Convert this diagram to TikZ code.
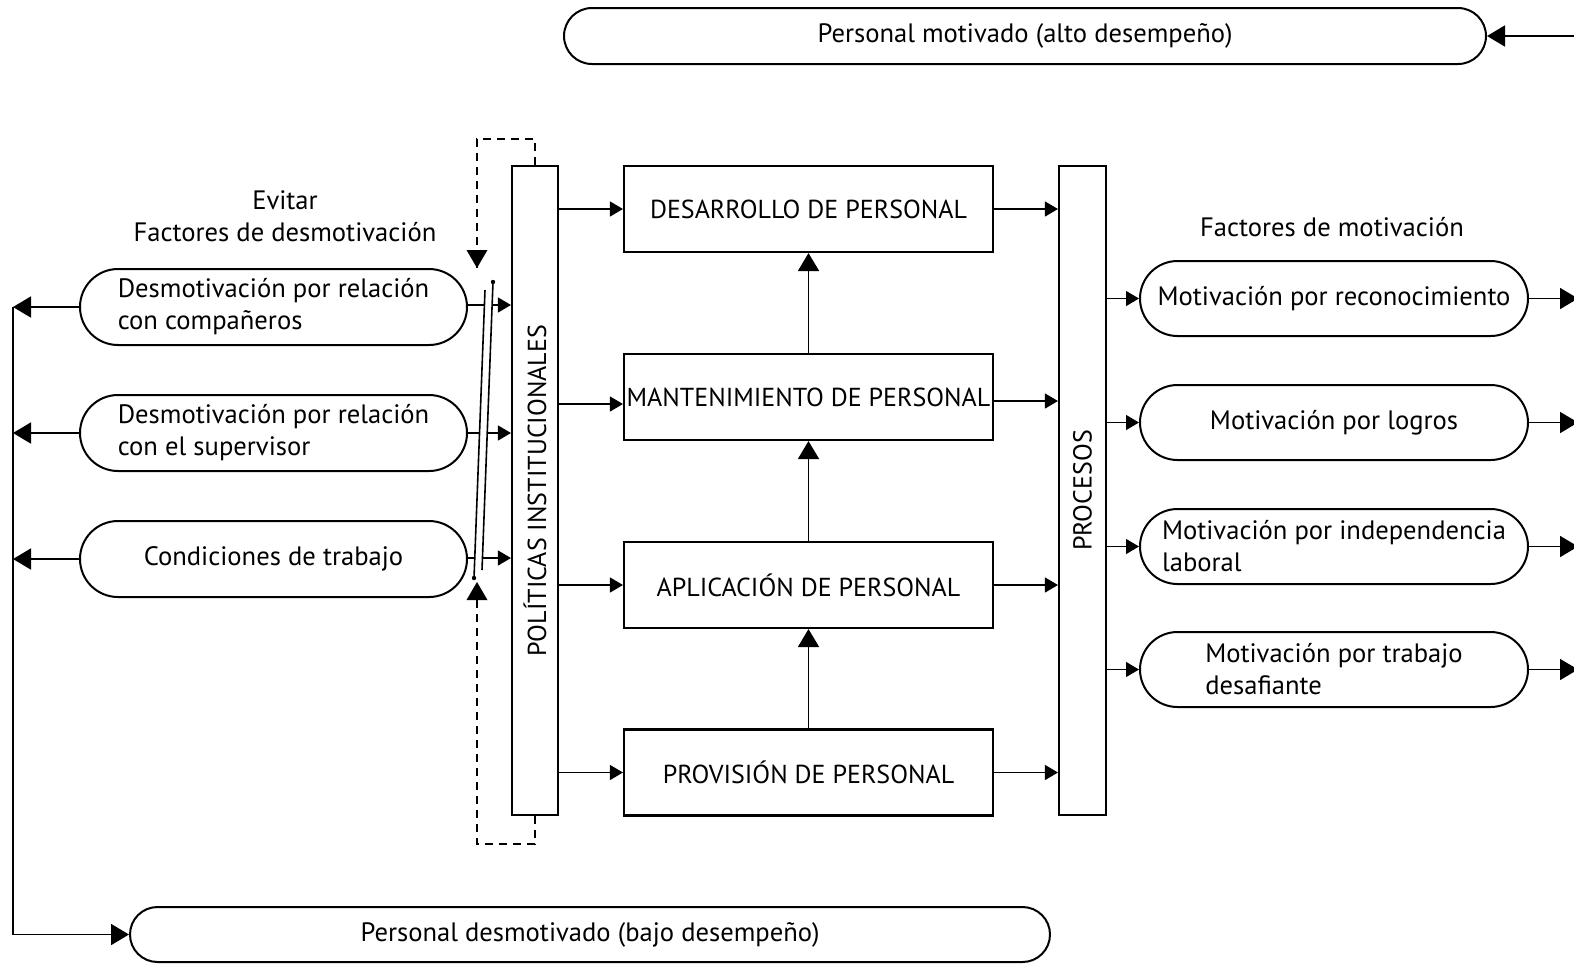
\documentclass[tikz,border=0pt]{standalone}
\usepackage{fontspec}
\setmainfont{PT Sans}
\usetikzlibrary{arrows.meta,shapes.misc}

\begin{document}
\begin{tikzpicture}[x=0.5pt,y=-0.5pt,
  every node/.style={font=\fontsize{13.3}{16}\selectfont},
  pill/.style={rounded rectangle, draw, line width=1pt, align=left, inner sep=0pt},
  box/.style={draw, rectangle, line width=1.05pt, inner sep=0pt, font=\fontsize{13}{16}\selectfont},
  small/.style={line width=0.6pt, -{Triangle[length=6.5pt,width=7.5pt]}},
  big/.style={line width=0.9pt, -{Triangle[length=9pt,width=10.5pt]}},
  dashline/.style={line width=0.9pt, dash pattern=on 4pt off 3pt},
  bar/.style={line width=0.8pt},
  heading/.style={align=center}]

\useasboundingbox (0,0) rectangle (1574,966);

% outcome bars
\node[pill, minimum width=461pt, minimum height=28pt] (top) at (1025,36) {Personal motivado (alto desempeño)};
\node[pill, minimum width=460pt, minimum height=27.5pt] (bot) at (590,934.5) {Personal desmotivado (bajo desempeño)};

% headings
\node[heading] (hl) at (285,216) {Evitar\\Factores de desmotivación};
\node[heading] (hr) at (1332,227) {Factores de motivación};

% demotivation factors
\node[pill, minimum width=193.5pt, minimum height=38pt] (L1) at (273.5,307) {Desmotivación por relación\\con compañeros};
\node[pill, minimum width=193.5pt, minimum height=38pt] (L2) at (273.5,433) {Desmotivación por relación\\con el supervisor};
\node[pill, minimum width=193.5pt, minimum height=38pt] (L3) at (273.5,559) {Condiciones de trabajo};

% institutional policies and processes
\node[box, minimum width=23pt, minimum height=324.5pt] (pol) at (535,490.5) {};
\node[rotate=90, font=\fontsize{13}{16}\selectfont] (polt) at (535,490.5) {POLÍTICAS INSTITUCIONALES};
\node[box, minimum width=23.5pt, minimum height=324.5pt] (proc) at (1082.5,490.5) {};
\node[rotate=90, font=\fontsize{13}{16}\selectfont] (proct) at (1082.5,490.5) {PROCESOS};

% personnel subsystems
\node[box, minimum width=184.5pt, minimum height=43pt] (D) at (808.5,209) {DESARROLLO DE PERSONAL};
\node[box, minimum width=184.5pt, minimum height=43pt] (M) at (808.5,397) {MANTENIMIENTO DE PERSONAL};
\node[box, minimum width=184.5pt, minimum height=43pt] (A) at (808.5,585) {APLICACIÓN DE PERSONAL};
\node[box, minimum width=184.5pt, minimum height=43pt] (P) at (808.5,772.5) {PROVISIÓN DE PERSONAL};

% motivation factors
\node[pill, minimum width=194pt, minimum height=37.5pt] (R1) at (1334,298.5) {Motivación por reconocimiento};
\node[pill, minimum width=194pt, minimum height=37.5pt] (R2) at (1334,422.5) {Motivación por logros};
\node[pill, minimum width=194pt, minimum height=37.5pt] (R3) at (1334,546.5) {Motivación por independencia\\laboral};
\node[pill, minimum width=194pt, minimum height=37.5pt] (R4) at (1334,669.5) {Motivación por trabajo\\desafiante};

% policies -> subsystems
\draw[small] (pol.east |- D.west) -- (D.west);
\draw[small] (pol.east |- 0,404) -- (M.west |- 0,404);
\draw[small] (pol.east |- A.west) -- (A.west);
\draw[small] (pol.east |- P.west) -- (P.west);

% subsystem chain
\draw[big] (P.north) -- (A.south);
\draw[big] (A.north) -- (M.south);
\draw[big] (M.north) -- (D.south);

% subsystems -> processes
\draw[small] (D.east) -- (proc.west |- D.east);
\draw[small] (M.east |- 0,401) -- (proc.west |- 0,401);
\draw[small] (A.east) -- (proc.west |- A.east);
\draw[small] (P.east) -- (proc.west |- P.east);

% processes -> motivation factors
\draw[small] (proc.east |- R1.west) -- (R1.west);
\draw[small] (proc.east |- R2.west) -- (R2.west);
\draw[small] (proc.east |- R3.west) -- (R3.west);
\draw[small] (proc.east |- R4.west) -- (R4.west);

% motivation factors -> outside
\coordinate (o1) at (1578,298.5);
\coordinate (o2) at (1578,422.5);
\coordinate (o3) at (1578,546.5);
\coordinate (o4) at (1578,669.5);
\draw[big] (R1.east) -- (o1);
\draw[big] (R2.east) -- (o2);
\draw[big] (R3.east) -- (o3);
\draw[big] (R4.east) -- (o4);
\coordinate (tin) at (1574,36);
\draw[big] (tin) -- (top.east);

% demotivation factors -> feedback line
\coordinate (f1) at (13,307);
\coordinate (f2) at (13,433);
\coordinate (f3) at (13,559);
\draw[big] (L1.west) -- (f1);
\draw[big] (L2.west) -- (f2);
\draw[big] (L3.west) -- (f3);
\draw[big] (f1) |- (bot.west);

% open switch between demotivation factors and policies
\coordinate (sa1) at (485,290);
\coordinate (sa2) at (474,578);
\coordinate (sb1) at (493,282);
\coordinate (sb2) at (482,570);
\draw[bar] (sa1) -- (sa2);
\draw[bar] (sb1) -- (sb2);
\fill (sa2) circle (1.1pt);
\fill (sb1) circle (1.1pt);
\coordinate (a1) at (484.4,305);
\coordinate (b1) at (492.1,305);
\coordinate (a2) at (479.5,433);
\coordinate (b2) at (487.2,433);
\coordinate (a3) at (474.8,558);
\coordinate (b3) at (482.5,558);
\draw[line width=0.6pt] (L1.east |- a1) -- (a1);
\draw[line width=0.6pt] (L2.east) -- (a2);
\draw[line width=0.6pt] (L3.east |- a3) -- (a3);
\draw[small] (b1) -- (pol.west |- b1);
\draw[small] (b2) -- (pol.west |- b2);
\draw[small] (b3) -- (pol.west |- b3);

% dashed feedback of the policies onto the switch
\coordinate (dt) at (477,268);
\coordinate (db) at (477,582);
\draw[dashline] (pol.north) -- ++(0,-26) -| (dt);
\fill (dt) -- ++(-5.25pt,9pt) -- ++(10.5pt,0) -- cycle;
\draw[dashline] (pol.south) -- ++(0,28) -| (db);
\fill (db) -- ++(-5.25pt,-9pt) -- ++(10.5pt,0) -- cycle;
\end{tikzpicture}
\end{document}
